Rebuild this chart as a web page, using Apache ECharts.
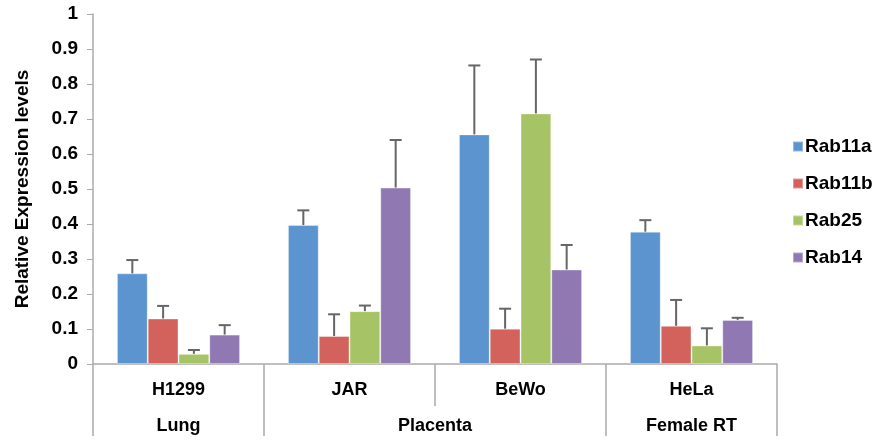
<!DOCTYPE html>
<html><head><meta charset="utf-8">
<script src="https://cdn.jsdelivr.net/npm/echarts@6/dist/echarts.min.js"></script>
<style>html,body{margin:0;padding:0;background:#fff}#c{width:875px;height:440px}</style>
</head><body><div id="c"></div>
<script>
var cellLines = ['H1299', 'JAR', 'BeWo', 'HeLa'];
var tissueSlots = ['', 'Lung', '', '', 'Placenta', '', '', 'Female RT', ''];
var seriesNames = ['Rab11a', 'Rab11b', 'Rab25', 'Rab14'];
var rab11a = [0.259, 0.397, 0.656, 0.378];
var rab11b = [0.130, 0.080, 0.101, 0.109];
var rab25  = [0.029, 0.151, 0.716, 0.053];
var rab14  = [0.084, 0.504, 0.270, 0.126];
var rab11aErr = [0.038, 0.042, 0.197, 0.033];
var rab11bErr = [0.036, 0.062, 0.057, 0.074];
var rab25Err  = [0.011, 0.016, 0.154, 0.049];
var rab14Err  = [0.027, 0.136, 0.070, 0.006];
var colors = ['#5B94CE', '#D2625B', '#A6C465', '#9079B3'];

var values = [rab11a, rab11b, rab25, rab14];
var errs = [rab11aErr, rab11bErr, rab25Err, rab14Err];
var gapRatio = 0.28;

var errData = [];
values.forEach(function (vals, s) {
  vals.forEach(function (v, c) { errData.push([c, s, v, v + errs[s][c]]); });
});

var font = 'Liberation Sans, Arial, sans-serif';
var series = seriesNames.map(function (n, i) {
  return {
    name: n, type: 'bar', data: values[i], barGap: 0, barCategoryGap: (gapRatio * 100) + '%',
    itemStyle: { color: colors[i], borderColor: 'rgba(255,255,255,0.35)', borderWidth: 1 }
  };
});
series.push({
  type: 'custom', name: 'err', xAxisIndex: 0, yAxisIndex: 0, z: 5,
  data: errData,
  encode: { x: 0, y: 3 },
  renderItem: function (params, api) {
    var c = api.value(0), s = api.value(1);
    var base = api.coord([c, api.value(2)]);
    var top = api.coord([c, api.value(3)]);
    var band = api.size([1, 0])[0];
    var barW = band * (1 - gapRatio) / 4;
    var x = base[0] - band * (1 - gapRatio) / 2 + barW * (s + 0.5);
    var cap = 6;
    var st = { stroke: '#666', lineWidth: 2 };
    return { type: 'group', children: [
      { type: 'line', shape: { x1: x, y1: base[1], x2: x, y2: top[1] }, style: st },
      { type: 'line', shape: { x1: x - cap, y1: top[1], x2: x + cap, y2: top[1] }, style: st }
    ]};
  }
});

var chart = echarts.init(document.getElementById('c'));
chart.setOption({
  animation: false,
  color: colors,
  grid: { left: 93, right: 98, top: 14, bottom: 76 },
  legend: {
    data: seriesNames, orient: 'vertical', left: 787, top: 132,
    itemWidth: 10, itemHeight: 10, itemGap: 18, icon: 'rect',
    textStyle: { fontFamily: font, fontWeight: 'bold', fontSize: 19, color: '#000', padding: [0, 0, 0, -3] }
  },
  xAxis: [{
    type: 'category', data: cellLines, position: 'bottom',
    axisLine: { show: true, lineStyle: { color: '#AAA', width: 1.5 } },
    axisTick: { show: true, interval: 0, length: 42, lineStyle: { color: '#AAA', width: 1.5 } },
    axisLabel: { margin: 17, fontFamily: font, fontWeight: 'bold', fontSize: 18, color: '#000' }
  }, {
    type: 'category', data: tissueSlots, position: 'bottom', offset: 42, boundaryGap: false,
    axisLine: { show: false },
    axisTick: { show: true, length: 30, lineStyle: { color: '#AAA', width: 1.5 },
      interval: function (i) { return i === 0 || i === 2 || i === 6 || i === 8; } },
    axisLabel: { interval: 0, margin: 11, fontFamily: font, fontWeight: 'bold', fontSize: 18, color: '#000' }
  }],
  yAxis: {
    type: 'value', min: 0, max: 1, interval: 0.1,
    name: 'Relative Expression levels', nameLocation: 'middle', nameGap: 61, nameRotate: 90,
    nameTextStyle: { fontFamily: font, fontWeight: 'bold', fontSize: 19, color: '#000' },
    axisLine: { show: true, lineStyle: { color: '#AAA', width: 1.5 } },
    axisTick: { show: true, length: 6, lineStyle: { color: '#AAA' } },
    splitLine: { show: false },
    axisLabel: { margin: 15, fontFamily: font, fontWeight: 'bold', fontSize: 19, color: '#000' }
  },
  series: series
});
</script></body></html>
